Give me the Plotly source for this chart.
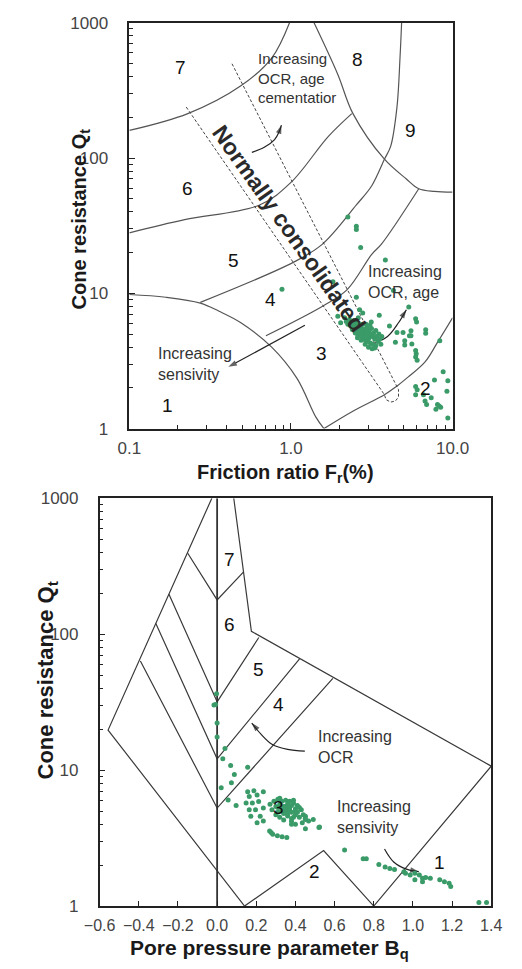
import math
import plotly.graph_objects as go

W, H = 522, 969
LOG = math.log10

# ---------------- Top chart: normalised cone resistance vs friction ratio ----------------
# zone boundary curves (Fr in %, Qt)
zb1_fr = [0.1, 0.168, 0.275, 0.359, 0.49, 0.76, 1.09, 1.43, 1.6]
zb1_q = [9.8, 9.35, 8.46, 7.37, 6.06, 4.0, 2.35, 1.21, 1.0]
zb2_fr = [1.6, 2.43, 3.79, 4.5, 5.3, 6.76, 8.07, 10.0]
zb2_q = [1.0, 1.35, 1.78, 2.05, 2.4, 3.11, 4.34, 6.6]
zb3_fr = [0.70, 1.56, 2.22, 3.17, 3.62, 6.18]
zb3_q = [4.86, 8.0, 10.6, 19.5, 23.0, 59.3]
zb4_fr = [0.275, 1.04, 1.56, 2.54, 3.17, 3.79, 4.14, 4.53, 4.73, 4.84]
zb4_q = [8.57, 17.0, 23.0, 45.0, 62.7, 98.0, 122.0, 238.0, 548.0, 1000.0]
zb5_fr = [0.1, 0.22, 0.64, 1.0, 1.70, 2.38]
zb5_q = [28.0, 35.0, 44.9, 66.0, 144.0, 213.0]
zb6_fr = [0.1, 0.23, 0.49, 0.76, 0.98]
zb6_q = [160.0, 213.0, 342.0, 548.0, 1000.0]
zb7_fr = [1.39, 1.95, 2.42, 3.79, 5.18, 6.18, 7.73, 10.0]
zb7_q = [1000.0, 415.0, 213.0, 98.0, 70.0, 59.3, 56.7, 56.0]

# normally consolidated band (dashed outline)
nc_fr = [0.225, 3.79, 3.87, 4.14, 4.43, 4.63, 4.63, 0.429]
nc_q = [238.0, 1.78, 1.64, 1.57, 1.60, 1.71, 1.94, 505.0]

# measured points
top_fr = [2.25, 2.54, 2.54, 2.70, 3.84, 0.88, 1.82, 2.54, 4.31, 2.66, 2.78, 3.14, 3.52,
          4.07, 5.36, 5.91, 5.99, 4.53, 4.94, 5.53, 5.53, 4.43, 5.06, 5.06, 5.41, 6.82,
          6.82, 8.34, 5.91, 5.96, 5.91, 6.04, 8.75, 9.35, 7.73, 5.91, 6.04, 5.91, 6.61,
          6.76, 6.91, 7.38, 8.07, 8.26, 7.89, 8.44, 9.23, 9.35, 1.95, 2.03, 2.61, 5.6]
top_q = [36.7, 31.3, 29.6, 21.8, 17.6, 10.7, 12.2, 9.35, 10.5, 7.57, 7.16, 6.13, 6.89,
         5.74, 7.92, 6.48, 6.13, 5.13, 5.13, 5.28, 4.86, 4.34, 4.47, 4.15, 4.86, 5.37,
         5.07, 4.47, 3.78, 3.57, 3.38, 3.2, 2.63, 2.26, 2.29, 2.05, 1.94, 1.78, 1.78,
         1.6, 1.51, 1.69, 1.51, 1.47, 1.39, 1.44, 1.89, 1.2, 6.78, 6.06, 6.59, 4.22]
top_core_fr = [2.15, 2.2, 2.25, 2.3, 2.35, 2.4, 2.4, 2.45, 2.5, 2.5, 2.55, 2.55, 2.6, 2.6,
               2.65, 2.65, 2.7, 2.7, 2.75, 2.75, 2.8, 2.8, 2.85, 2.85, 2.9, 2.9, 2.95, 2.95,
               3.0, 3.0, 3.05, 3.05, 3.1, 3.1, 3.15, 3.2, 3.2, 3.25, 3.3, 3.35, 3.35, 3.4,
               3.45, 3.5, 3.55, 3.6, 3.65, 2.45, 2.62, 2.78, 2.92, 3.08, 2.58, 2.72, 2.88,
               3.02, 3.18, 3.3]
top_core_q = [6.6, 6.2, 5.9, 6.4, 5.7, 6.0, 5.4, 5.8, 5.5, 5.1, 6.1, 5.3, 5.7, 4.9,
              5.4, 5.0, 5.8, 5.2, 4.8, 5.5, 5.1, 4.6, 5.4, 4.9, 5.2, 4.5, 5.6, 4.8,
              5.1, 4.4, 5.3, 4.7, 5.0, 4.3, 5.5, 4.8, 4.2, 5.1, 4.6, 5.3, 4.1, 4.8,
              4.4, 5.0, 4.6, 4.2, 4.8, 6.3, 6.0, 5.9, 5.9, 5.8, 4.7, 4.5, 4.2,
              4.0, 3.9, 3.95]

# zone numbers
top_zone_txt = ["1", "2", "3", "4", "5", "6", "7", "8", "9"]
top_zone_fr = [0.172, 6.82, 1.54, 0.748, 0.442, 0.23, 0.207, 2.58, 5.53]
top_zone_q = [1.47, 1.99, 3.57, 8.94, 17.6, 60.0, 470.0, 533.0, 161.0]

# trend arrows (curve points, arrow tip last)
arr_a_fr = [0.573, 0.684, 0.792, 0.847, 0.873]
arr_a_q = [110.0, 120.0, 137.0, 157.0, 175.0]
arr_b_fr = [3.03, 3.96, 4.63, 5.18]
arr_b_q = [4.11, 4.8, 6.06, 7.57]
arr_c_fr = [1.22, 0.41]
arr_c_q = [5.8, 2.86]

# ---------------- Bottom chart: normalised cone resistance vs pore pressure ratio ----------------
vline_bq = [0.0, 0.0]
vline_q = [1.0, 1000.0]
outer_bq = [-0.027, -0.557, 0.14]
outer_q = [1000.0, 19.7, 1.0]
v76_bq = [-0.150, 0.0, 0.134]
v76_q = [394.0, 178.6, 286.0]
v65_bq = [-0.246, 0.0, 0.213]
v65_q = [197.0, 31.8, 94.5]
v54_bq = [-0.313, 0.0, 0.421]
v54_q = [120.0, 12.1, 65.9]
v43_bq = [-0.392, 0.0, 0.591]
v43_q = [63.5, 5.26, 47.3]
right_bq = [0.085, 0.175, 1.4, 0.8]
right_q = [1000.0, 105.0, 10.7, 1.0]
zone2_bq = [0.14, 0.544, 0.8]
zone2_q = [1.0, 2.56, 1.0]

bot_bq = [-0.003, -0.016, -0.008, 0.0, 0.0, 0.04, 0.029, 0.069, 0.156, 0.088, 0.073, 0.021,
          0.056, 0.097, 0.156, 0.188, 0.236, 0.164, 0.204, 0.148, 0.18, 0.212, 0.164, 0.196,
          0.236, 0.172, 0.22, 0.236, 0.204, 0.268, 0.284, 0.308, 0.332, 0.356, 0.276, 0.451,
          0.467, 0.451, 0.52, 0.651, 0.746, 0.762, 0.826, 0.858, 0.882, 0.906, 0.954, 0.962,
          1.01, 1.033, 1.049, 1.065, 1.089, 1.137, 1.161, 1.185, 1.193, 1.01, 1.049, 0.986,
          1.337, 1.376]
bot_q = [36.5, 30.1, 30.4, 22.2, 17.5, 14.4, 12.1, 10.8, 10.5, 9.3, 8.06, 7.41,
         6.04, 5.5, 6.94, 7.06, 6.94, 6.39, 6.57, 5.72, 5.72, 5.88, 5.12, 5.12,
         5.26, 4.58, 4.58, 4.22, 4.1, 3.57, 3.38, 3.29, 3.23, 3.2, 3.47, 4.58,
         4.22, 3.71, 3.78, 2.59, 2.23, 2.23, 2.02, 1.94, 1.89, 1.86, 1.79, 1.74,
         1.74, 1.69, 1.6, 1.62, 1.6, 1.56, 1.51, 1.47, 1.39, 1.56, 1.51, 1.69,
         1.06, 1.06]
bot_core_bq = [0.27, 0.28, 0.29, 0.30, 0.31, 0.31, 0.32, 0.33, 0.33, 0.34, 0.34, 0.35, 0.35,
               0.36, 0.36, 0.37, 0.37, 0.38, 0.38, 0.39, 0.39, 0.40, 0.40, 0.41, 0.41, 0.42,
               0.43, 0.44, 0.45, 0.32, 0.34, 0.30, 0.33, 0.35, 0.37, 0.38, 0.36, 0.39, 0.32,
               0.31, 0.42, 0.40, 0.36, 0.38, 0.451, 0.491, 0.523, 0.38, 0.40, 0.435]
bot_core_q = [5.6, 5.1, 5.9, 5.4, 4.9, 6.1, 5.6, 5.2, 5.9, 4.8, 5.4, 6.0, 5.0,
              5.6, 4.6, 5.3, 5.9, 4.9, 5.5, 5.7, 4.5, 5.2, 4.7, 5.5, 4.9, 4.5,
              5.1, 4.7, 4.4, 4.5, 4.3, 4.7, 5.0, 5.4, 5.1, 4.4, 5.3, 6.0, 6.2,
              5.3, 5.3, 5.0, 4.8, 4.2, 4.33, 4.33, 3.82, 3.99, 3.99, 4.1]

bot_zone_txt = ["1", "2", "3", "4", "5", "6", "7"]
bot_zone_bq = [1.137, 0.499, 0.312, 0.312, 0.213, 0.065, 0.065]
bot_zone_q = [2.09, 1.79, 5.32, 30.4, 55.3, 118.0, 352.0]

arr_d_bq = [0.448, 0.36, 0.28, 0.225, 0.177]
arr_d_q = [13.8, 14.2, 15.5, 18.3, 22.2]
arr_e_bq = [0.855, 0.902, 0.967, 1.03]
arr_e_q = [2.63, 2.11, 1.87, 1.79]

# ---------------- styling ----------------
FONT = "Liberation Sans, Arial, sans-serif"
GREEN = "#3a9b68"
LINE_T = "#555555"
LINE_B = "#3a3a3a"
TXT = "#333333"

fig = go.Figure()


def curve(x, y, xa, ya, color, width=1.2, shape="spline", dash=None):
    fig.add_trace(go.Scatter(x=x, y=y, xaxis=xa, yaxis=ya, mode="lines",
                             line=dict(color=color, width=width, shape=shape, dash=dash),
                             hoverinfo="skip", showlegend=False))


def arrow(x, y, xa, ya, shape="spline"):
    # trend arrow: line through the points, arrow tip at the last one
    sizes = [0] * (len(x) - 1) + [9]
    fig.add_trace(go.Scatter(x=x, y=y, xaxis=xa, yaxis=ya, mode="lines+markers",
                             line=dict(color="#222222", width=1.2, shape=shape),
                             marker=dict(symbol="arrow", size=sizes, angleref="previous",
                                         color="#222222", line=dict(width=0)),
                             hoverinfo="skip", showlegend=False))


# top chart boundaries
for fx, qy in [(zb1_fr, zb1_q), (zb2_fr, zb2_q), (zb3_fr, zb3_q), (zb4_fr, zb4_q),
               (zb5_fr, zb5_q), (zb6_fr, zb6_q), (zb7_fr, zb7_q)]:
    curve(fx, qy, "x", "y", LINE_T)
curve(nc_fr, nc_q, "x", "y", "#444444", width=1.0, shape="linear", dash="3px,2px")
arrow(arr_a_fr, arr_a_q, "x", "y")
arrow(arr_b_fr, arr_b_q, "x", "y")
arrow(arr_c_fr, arr_c_q, "x", "y", shape="linear")

fig.add_trace(go.Scatter(x=top_fr + top_core_fr, y=top_q + top_core_q, xaxis="x", yaxis="y",
                         mode="markers", marker=dict(color=GREEN, size=5, line=dict(width=0)),
                         hoverinfo="skip", showlegend=False))

# bottom chart boundaries
for bx, qy in [(outer_bq, outer_q), (v76_bq, v76_q), (v65_bq, v65_q), (v54_bq, v54_q),
               (v43_bq, v43_q), (right_bq, right_q), (zone2_bq, zone2_q)]:
    curve(bx, qy, "x2", "y2", LINE_B, width=1.2, shape="linear")
curve(vline_bq, vline_q, "x2", "y2", "#333333", width=1.8, shape="linear")
arrow(arr_d_bq, arr_d_q, "x2", "y2")
arrow(arr_e_bq, arr_e_q, "x2", "y2")

fig.add_trace(go.Scatter(x=bot_bq + bot_core_bq, y=bot_q + bot_core_q, xaxis="x2", yaxis="y2",
                         mode="markers", marker=dict(color=GREEN, size=5, line=dict(width=0)),
                         hoverinfo="skip", showlegend=False))

ann = []


def label(text, x, y, xr, yr, size=19, color="#111111", xanchor="center", bold=False,
          angle=0, xlog=True):
    ann.append(dict(text=text, x=LOG(x) if xlog else x, y=LOG(y), xref=xr, yref=yr,
                    showarrow=False, xanchor=xanchor, yanchor="middle", textangle=angle,
                    align="left", font=dict(family=FONT, size=size, color=color,
                                            weight="bold" if bold else "normal")))


for t, fx, qy in zip(top_zone_txt, top_zone_fr, top_zone_q):
    label(t, fx, qy, "x", "y")
for t, bx, qy in zip(bot_zone_txt, bot_zone_bq, bot_zone_q):
    label(t, bx, qy, "x2", "y2", xlog=False)

label("Normally consolidated", 0.98, 30.1, "x", "y", size=23, color="#2a2a2a", bold=True,
      angle=54.7)

label("Increasing<br>OCR, age<br>cementatior", 0.607, 393.0, "x", "y", size=15, color=TXT,
      xanchor="left")
label("Increasing<br>OCR, age", 2.90, 12.2, "x", "y", size=16, color=TXT, xanchor="left")
label("Increasing<br>sensivity", 0.147, 3.0, "x", "y", size=16, color=TXT, xanchor="left")
label("Increasing<br>OCR", 0.507, 14.8, "x2", "y2", size=16, color=TXT, xanchor="left",
      xlog=False)
label("Increasing<br>sensivity", 0.603, 4.5, "x2", "y2", size=16, color=TXT, xanchor="left",
      xlog=False)


def title(text, px, py, size, angle=0):
    ann.append(dict(text=text, x=px / W, y=1 - py / H, xref="paper", yref="paper",
                    showarrow=False, xanchor="center", yanchor="middle", textangle=angle,
                    font=dict(family=FONT, size=size, color="#1a1a1a", weight="bold")))


title("Cone resistance Q<sub>t</sub>", 69, 214, 20, -90)
title("Friction ratio F<sub>r</sub>(%)", 288, 474, 20)
title("Cone resistance Q<sub>t</sub>", 33, 685, 22, -90)
title("Pore pressure parameter B<sub>q</sub>", 271, 959, 21)

TICKFONT = dict(family=FONT, size=17, color="#444444")
AX = dict(showline=True, linecolor="#222222", linewidth=1.5, mirror=True, showgrid=False,
          zeroline=False, ticks="inside", tickcolor="#222222", tickfont=TICKFONT)

minor_fr = [0.2, 0.3, 0.4, 0.5, 0.6, 0.7, 0.8, 0.9, 2, 3, 4, 5, 6, 7, 8, 9]
minor_q = [m * d for d in (1, 10, 100) for m in range(2, 10)]

x_ticks_top = [0.1, 1, 10]
x_text_top = ["0.1", "1.0", "10.0"]
q_ticks = [1, 10, 100, 1000]
q_text = ["1", "10", "100", "1000"]
bq_ticks = [-0.6, -0.4, -0.2, 0.0, 0.2, 0.4, 0.6, 0.8, 1.0, 1.2, 1.4]
bq_text = ["\u22120.6", "\u22120.4", "\u22120.2", "0.0", "0.2", "0.4", "0.6", "0.8",
           "1.0", "1.2", "1.4"]

fig.update_layout(
    width=W, height=H, margin=dict(l=0, r=0, t=0, b=0),
    paper_bgcolor="white", plot_bgcolor="white", showlegend=False,
    xaxis=dict(AX, type="log", range=[-1, 1], domain=[121 / W, 466 / W], anchor="y",
               tickvals=x_ticks_top, ticktext=x_text_top, ticklen=6, ticklabelstandoff=3,
               minor=dict(tickvals=minor_fr, ticks="inside", ticklen=4, tickcolor="#222222")),
    yaxis=dict(AX, type="log", range=[0, 3], domain=[1 - 428 / H, 1 - 14 / H], anchor="x",
               tickvals=q_ticks, ticktext=q_text, ticklen=6, ticklabelstandoff=16,
               minor=dict(tickvals=minor_q, ticks="inside", ticklen=4, tickcolor="#222222")),
    xaxis2=dict(AX, type="linear", range=[-0.6, 1.4], domain=[89.3 / W, 507.3 / W], anchor="y2",
                tickvals=bq_ticks, ticktext=bq_text, ticklen=5, ticklabelstandoff=4,
                tickfont=dict(family=FONT, size=16, color="#444444")),
    yaxis2=dict(AX, type="log", range=[0, 3], domain=[1 - 915 / H, 1 - 499 / H], anchor="x2",
                tickvals=q_ticks, ticktext=q_text, ticklen=6, ticklabelstandoff=16,
                minor=dict(tickvals=minor_q, ticks="inside", ticklen=4, tickcolor="#222222")),
    annotations=ann,
)

fig.write_html("out.html")
